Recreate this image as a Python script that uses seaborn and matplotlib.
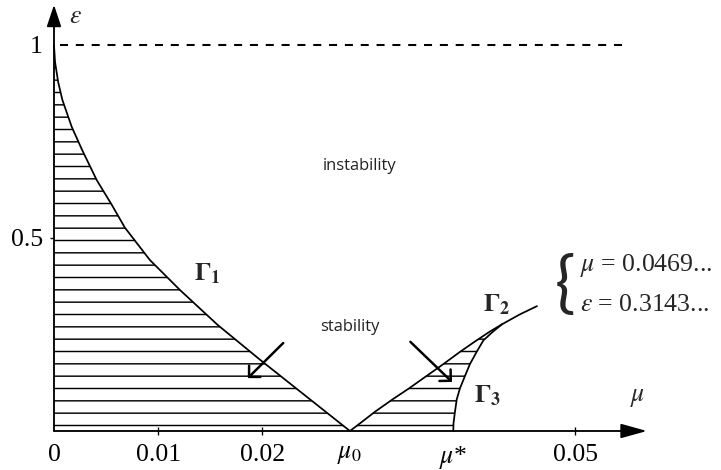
import numpy as np
import matplotlib
matplotlib.use("Agg")
import matplotlib.pyplot as plt
import seaborn as sns

# fronteira Gamma1 (mu, eps)
mu_g1 = [0.0, 0.0001, 0.0004, 0.0008, 0.0017, 0.0027, 0.0041, 0.0055,
         0.0068, 0.0092, 0.0121, 0.0157, 0.0198, 0.0241, 0.0284]
eps_g1 = [1.0, 0.956, 0.904, 0.858, 0.788, 0.728, 0.650, 0.588,
          0.527, 0.443, 0.365, 0.275, 0.184, 0.092, 0.0]

# fronteira Gamma2
mu_g2 = [0.0284, 0.02937, 0.03081, 0.03250, 0.03408, 0.03575, 0.03738,
         0.03898, 0.04040, 0.04184, 0.04299, 0.04472, 0.04635]
eps_g2 = [0.0, 0.0199, 0.0500, 0.0821, 0.1106, 0.1425, 0.1736,
          0.2054, 0.2319, 0.2578, 0.2764, 0.3023, 0.3235]

# fronteira Gamma3 (termina onde encontra Gamma2)
mu_g3 = [0.03832, 0.03834, 0.03848, 0.03865, 0.03896, 0.03944, 0.03992,
         0.04057, 0.04120, 0.04203, 0.04299]
eps_g3 = [0.0, 0.0199, 0.0500, 0.0821, 0.1106, 0.1425, 0.1736,
          0.2054, 0.2345, 0.2552, 0.2764]

mu0 = 0.0284
mu_star = 0.0383
x_ticks = [0, 0.01, 0.02, mu0, mu_star, 0.05]
x_labels = ["0", "0.01", "0.02", r"$\mu_0$", r"$\mu$*", "0.05"]
y_ticks = [0.5, 1.0]
y_labels = ["0.5", "1"]

# setas indicando a regiao de estabilidade
arrow_from = [(0.0220, 0.228), (0.0342, 0.231)]
arrow_to = [(0.0186, 0.137), (0.0382, 0.127)]

sns.set_theme(style="white")
plt.rcParams["font.family"] = ["Liberation Serif", "DejaVu Serif"]
plt.rcParams["mathtext.fontset"] = "stix"
plt.rcParams["hatch.linewidth"] = 1.4
plt.rcParams["lines.scale_dashes"] = False

DPI = 74
fig = plt.figure(figsize=(721 / DPI, 470 / DPI), dpi=DPI)
ax = fig.add_axes([0, 0, 1, 1])
ax.set_facecolor("white")
ax.set_xlim(-0.005182, 0.06401)
ax.set_ylim(-0.10104, 1.11658)

# regioes hachuradas (estabilidade)
ax.fill_betweenx(eps_g1, 0, mu_g1, facecolor="none", edgecolor="black",
                 hatch="-", linewidth=0)
k = mu_g2.index(mu_g3[-1]) + 1
ax.fill(mu_g2[:k] + mu_g3[::-1], eps_g2[:k] + eps_g3[::-1],
        facecolor="none", edgecolor="black", hatch="-", linewidth=0)

for mx, my in [(mu_g1, eps_g1), (mu_g2, eps_g2), (mu_g3, eps_g3)]:
    sns.lineplot(x=mx, y=my, sort=False, estimator=None, color="black",
                 linewidth=1.7, ax=ax)

# linha tracejada em eps = 1
ax.hlines(1.0, 0.0006, 0.0546, colors="black", linewidth=2.0,
          linestyles=(0, (7.8, 7.6)))

# eixos com setas
for sp in ax.spines.values():
    sp.set_visible(False)
ax.spines["bottom"].set_position(("data", 0))
ax.spines["left"].set_position(("data", 0))
ax.annotate("", xy=(0.0569, 0), xytext=(0, 0),
            arrowprops=dict(arrowstyle="-|>,head_length=1.8,head_width=0.5",
                            color="black", lw=1.8, shrinkA=0, shrinkB=0))
ax.annotate("", xy=(0, 1.104), xytext=(0, 0),
            arrowprops=dict(arrowstyle="-|>,head_length=1.5,head_width=0.5",
                            color="black", lw=1.8, shrinkA=0, shrinkB=0))

ax.set_xticks(x_ticks)
ax.set_xticklabels(x_labels)
ax.set_yticks(y_ticks)
ax.set_yticklabels(y_labels)
ax.tick_params(axis="x", direction="inout", length=8, width=1.3, pad=9,
               labelsize=25, colors="black", bottom=True)
ax.tick_params(axis="y", direction="out", length=4, width=1.3, pad=7,
               labelsize=25, colors="black", left=True)
xt = ax.xaxis.get_major_ticks()
for i in [0, 3, 4]:
    xt[i].tick1line.set_visible(False)
ax.yaxis.get_major_ticks()[1].tick1line.set_visible(False)
ax.grid(False)

# rotulos dos eixos e curvas
ax.text(0.0021, 1.0725, r"$\varepsilon$", fontsize=25, ha="center", va="center")
ax.text(0.0560, 0.0855, r"$\mu$", fontsize=25, ha="center", va="center")
ax.text(0.01468, 0.4067, r"$\mathbf{\Gamma_1}$", fontsize=25, ha="center", va="center")
ax.text(0.04251, 0.3264, r"$\mathbf{\Gamma_2}$", fontsize=25, ha="center", va="center")
ax.text(0.04155, 0.0907, r"$\mathbf{\Gamma_3}$", fontsize=25, ha="center", va="center")

ax.text(0.02937, 0.6865, "instability", fontfamily="Open Sans", fontsize=16,
        ha="center", va="center", color="#222222")
ax.text(0.02841, 0.2694, "stability", fontfamily="Open Sans", fontsize=16,
        ha="center", va="center", color="#222222")

# ponto final de Gamma2
ax.text(0.04904, 0.376, "{", fontfamily="Lato", fontweight="normal",
        fontsize=66, ha="center", va="center")
ax.text(0.05048, 0.430, r"$\mu$ = 0.0469...", fontsize=25, ha="left", va="center")
ax.text(0.05048, 0.3264, r"$\varepsilon$ = 0.3143...", fontsize=25, ha="left", va="center")

for a, b in zip(arrow_from, arrow_to):
    ax.annotate("", xy=b, xytext=a,
                arrowprops=dict(arrowstyle="->,head_length=0.65,head_width=0.65",
                                color="black", lw=2.4, shrinkA=0, shrinkB=0))

fig.savefig("out.png", dpi=DPI)
